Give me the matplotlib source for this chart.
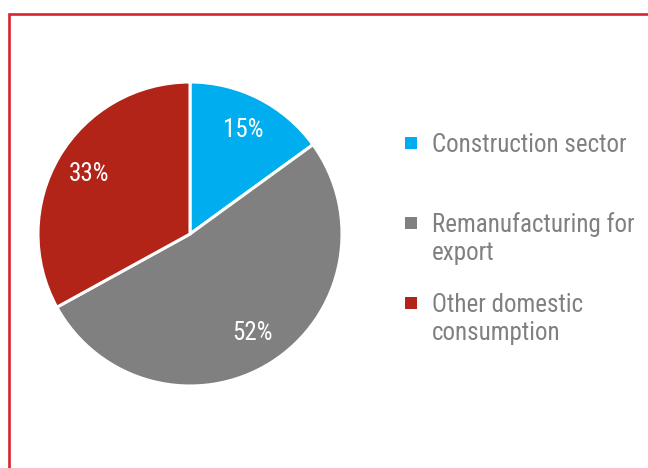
import matplotlib
matplotlib.use("Agg")
import matplotlib.pyplot as plt
from matplotlib.patches import Rectangle
from matplotlib.lines import Line2D

categories = ["Construction sector", "Remanufacturing for\nexport", "Other domestic\nconsumption"]
values = [15, 52, 33]
colors = ["#00aeef", "#808080", "#b22318"]

plt.rcParams['font.family'] = ['Roboto Condensed', 'DejaVu Sans']

W, H = 648, 468
fig = plt.figure(figsize=(W / 100, H / 100), dpi=100)
FS = 18

# pie axes: center (190,234), radius 152
cx, cy, r = 190, 234, 152
ax = fig.add_axes([(cx - r) / W, (H - cy - r) / H, 2 * r / W, 2 * r / H])
wedges, texts, autotexts = ax.pie(
    values, colors=colors, startangle=90, counterclock=False,
    autopct=lambda p: f"{p:.0f}%", pctdistance=0.77,
    wedgeprops=dict(edgecolor="white", linewidth=2.2),
    textprops=dict(color="white", fontsize=FS))
for t in autotexts:
    t.set_va("center")
ax.set_xlim(-1, 1)
ax.set_ylim(-1, 1)
ax.set_aspect("equal")
ax.axis("off")

# legend (manual, handle aligned with first line)
baselines = [152, 232, 312]
line_gap = 28
for lab, col, b in zip(categories, colors, baselines):
    sq = 12
    fig.patches.append(Rectangle((405 / W, (H - (b - 9) - sq / 2) / H), sq / W, sq / H,
                                 transform=fig.transFigure, facecolor=col, edgecolor="none"))
    for i, line in enumerate(lab.split("\n")):
        fig.text(432 / W, (H - b - i * line_gap) / H, line, fontsize=FS, color="#808080",
                 ha="left", va="baseline")

# red frame (top and left edges)
lc = "#d9232d"
fig.lines.append(Line2D([9 / W, 9 / W, 1.0], [0, (H - 14) / H, (H - 14) / H],
                        transform=fig.transFigure, color=lc, linewidth=1.9,
                        solid_joinstyle="miter"))

fig.savefig("out.png", dpi=100)
